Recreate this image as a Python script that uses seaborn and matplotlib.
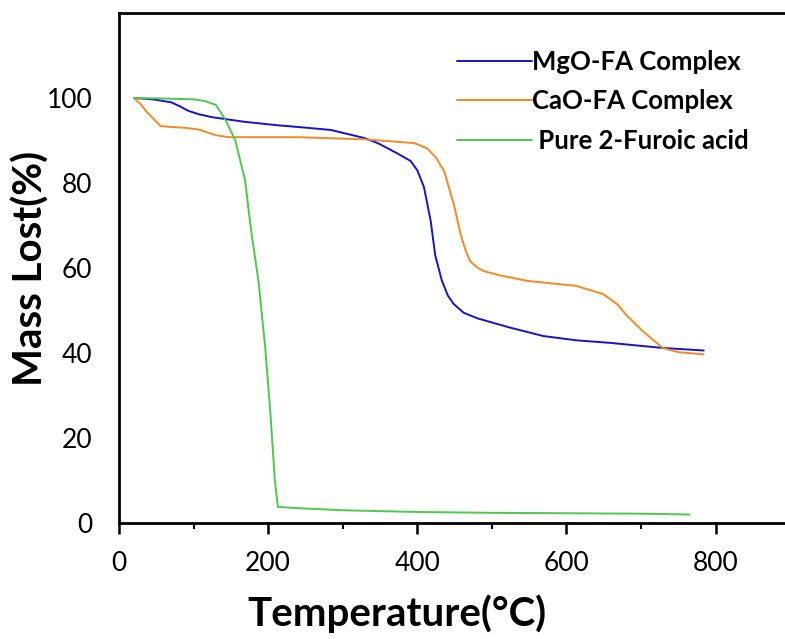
import numpy as np
import pandas as pd
import matplotlib
matplotlib.use("Agg")
import matplotlib.pyplot as plt
import seaborn as sns
from matplotlib.ticker import MultipleLocator

sns.set_theme(style="white")
plt.rcParams['font.family'] = ['Lato', 'DejaVu Sans']
plt.rcParams['text.color'] = 'black'
plt.rcParams['axes.labelcolor'] = 'black'
plt.rcParams['xtick.color'] = 'black'
plt.rcParams['ytick.color'] = 'black'

# MgO-FA Complex
mgo_T = [20, 40, 53, 70, 80, 93, 107, 125, 169, 213, 240, 284, 329, 347, 373, 391, 400, 409, 418, 424, 433, 441, 449, 462, 480, 524, 569, 613, 658, 729, 784]
mgo_M = [100, 99.8, 99.5, 99.0, 98.2, 97.0, 96.2, 95.5, 94.4, 93.6, 93.2, 92.5, 90.6, 89.4, 87.0, 85.2, 83.0, 79.0, 71.0, 63.0, 57.0, 53.5, 51.5, 49.5, 48.2, 46.0, 44.0, 43.0, 42.4, 41.2, 40.6]

# CaO-FA Complex
cao_T = [20, 28, 36, 49, 56, 70, 89, 107, 129, 147, 240, 329, 396, 413, 425, 436, 449, 458, 465, 471, 480, 489, 510, 547, 613, 649, 668, 680, 702, 729, 750, 784]
cao_M = [100, 98.8, 97.0, 94.6, 93.4, 93.2, 93.0, 92.6, 91.3, 90.8, 90.8, 90.3, 89.4, 88.2, 86.0, 82.8, 75.0, 68.0, 64.0, 61.6, 60.2, 59.3, 58.3, 57.0, 55.8, 53.9, 51.5, 49.0, 45.2, 41.2, 40.2, 39.7]

# Pure 2-Furoic acid
fa_T = [20, 60, 100, 115, 130, 143, 156, 169, 177, 187, 196, 203, 209, 213, 240, 300, 400, 500, 600, 700, 765]
fa_M = [100, 99.9, 99.7, 99.3, 98.4, 94.8, 90.0, 80.7, 69.0, 57.0, 41.4, 25.9, 10.0, 3.8, 3.5, 3.0, 2.6, 2.4, 2.3, 2.2, 2.0]

labels = ["MgO-FA Complex", "CaO-FA Complex", " Pure 2-Furoic acid"]
colors = ["#1414c8", "#f08a24", "#4cc84c"]

df = pd.concat([
    pd.DataFrame({"T": mgo_T, "M": mgo_M, "s": labels[0]}),
    pd.DataFrame({"T": cao_T, "M": cao_M, "s": labels[1]}),
    pd.DataFrame({"T": fa_T, "M": fa_M, "s": labels[2]}),
], ignore_index=True)

fig = plt.figure(figsize=(7.85, 6.39), dpi=100)
ax = fig.add_axes([0.1516, 0.1815, 0.8484, 0.798])

sns.lineplot(data=df, x="T", y="M", hue="s", palette=dict(zip(labels, colors)),
             sort=False, estimator=None, linewidth=1.4, ax=ax)

ax.set_xlim(0, 893)
ax.set_ylim(0, 120)
ax.set_xticks([0, 200, 400, 600, 800])
ax.set_yticks([0, 20, 40, 60, 80, 100])
ax.xaxis.set_minor_locator(MultipleLocator(100))
ax.tick_params(axis='x', which='major', direction='out', length=8, width=1.8,
               labelsize=19, pad=12, bottom=True, colors='black')
ax.tick_params(axis='x', which='minor', direction='out', length=4, width=1.5,
               bottom=True, colors='black')
ax.tick_params(axis='y', length=0, labelsize=19, pad=19, colors='black')

for s in ['left', 'bottom', 'top']:
    ax.spines[s].set_visible(True)
    ax.spines[s].set_color('black')
    ax.spines[s].set_linewidth(2)
ax.spines['right'].set_visible(False)

ax.set_xlabel("Temperature(°C)", fontsize=29, fontweight='bold', color='black')
ax.xaxis.set_label_coords(0.417, -0.14)
ax.set_ylabel("Mass Lost(%)", fontsize=29, fontweight='bold', color='black')
ax.yaxis.set_label_coords(-0.104, 0.5)

leg = ax.legend(loc='upper right', bbox_to_anchor=(0.961, 0.948), frameon=False,
                handlelength=2.9, handletextpad=0.0, borderaxespad=0.0,
                labelspacing=0.6, prop={'weight': 'bold', 'size': 18.5})
for line in leg.get_lines():
    line.set_linewidth(1.4)
for t in leg.get_texts():
    t.set_color('black')

fig.savefig("out.png", dpi=100)
